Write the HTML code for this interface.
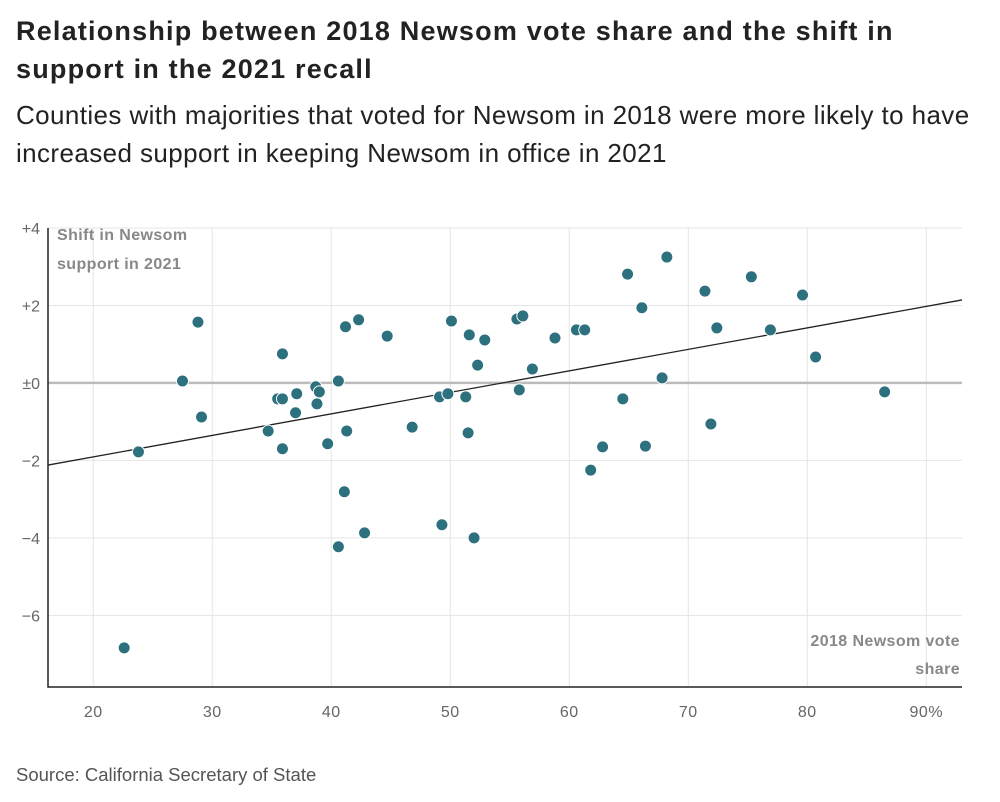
<!DOCTYPE html>
<html><head><meta charset="utf-8">
<style>
body{margin:0;background:#fff;width:1000px;height:802px;overflow:hidden;font-family:"Liberation Sans",sans-serif;}
#title{position:absolute;left:16px;top:12px;width:980px;font-size:27px;letter-spacing:1.2px;font-weight:bold;line-height:38px;color:#222;margin:0;white-space:nowrap}
#sub{position:absolute;left:16px;top:96px;width:980px;font-size:26px;letter-spacing:0.4px;line-height:38px;color:#222;margin:0;white-space:nowrap}
#src{position:absolute;left:16px;top:764px;font-size:18.5px;color:#555}
svg{position:absolute;left:0;top:0}
</style></head><body>
<h1 id="title">Relationship between 2018 Newsom vote share and the shift in<br>support in the 2021 recall</h1>
<p id="sub">Counties with majorities that voted for Newsom in 2018 were more likely to have<br>increased support in keeping Newsom in office in 2021</p>
<div id="src">Source: California Secretary of State</div>
<svg id="chart" width="1000" height="802"></svg>
<script>
const xVals=[23.8,27.5,28.8,29.1,22.6,34.7,35.5,35.9,35.9,35.9,37.0,37.1,38.7,39.0,38.8,39.7,40.6,41.2,41.3,41.1,40.6,42.3,42.8,44.7,46.8,49.1,49.3,49.8,50.1,51.3,51.6,51.5,52.0,52.3,52.9,55.6,56.1,55.8,56.9,58.8,60.6,61.3,61.8,62.8,64.5,64.9,66.1,66.4,67.8,68.2,71.4,71.9,72.4,75.3,76.9,79.6,80.7,86.5];
const yVals=[-1.78,0.05,1.57,-0.88,-6.84,-1.24,-0.41,-0.41,0.75,-1.70,-0.77,-0.28,-0.10,-0.23,-0.54,-1.57,0.05,1.45,-1.24,-2.81,-4.23,1.63,-3.87,1.21,-1.14,-0.36,-3.66,-0.28,1.60,-0.36,1.24,-1.29,-4.0,0.46,1.11,1.65,1.73,-0.18,0.36,1.16,1.37,1.37,-2.25,-1.65,-0.41,2.81,1.94,-1.63,0.13,3.25,2.37,-1.06,1.42,2.74,1.37,2.27,0.67,-0.23];
const xTicks=[20,30,40,50,60,70,80,90];
const xTickLabels=["20","30","40","50","60","70","80","90%"];
const yTicks=[4,2,0,-2,-4,-6];
const yTickLabels=["+4","+2","±0","−2","−4","−6"];
const trend=[-0.244,0.0555]; // value at x=50, slope
const X0=16.2,X1=93.0,Y0=-7.85,Y1=4.0;
const L=48,R=962,T=228,B=687;
const sx=v=>L+(v-X0)/(X1-X0)*(R-L);
const sy=v=>B-(v-Y0)/(Y1-Y0)*(B-T);
const svg=document.getElementById('chart');
const NS='http://www.w3.org/2000/svg';
function mk(tag,attrs,parent){const e=document.createElementNS(NS,tag);for(const k in attrs)e.setAttribute(k,attrs[k]);(parent||svg).appendChild(e);return e;}
xTicks.forEach((t,i)=>{
  const g=mk('line',{x1:sx(t),x2:sx(t),y1:T,y2:B,stroke:'#e4e4e4','stroke-width':1});
  
  
  const tx=mk('text',{x:sx(t),y:717,'text-anchor':'middle','font-size':16,'letter-spacing':0.5,fill:'#666'});
  tx.textContent=xTickLabels[i];
  
  
});
yTicks.forEach((t,i)=>{
  const g=mk('line',{x1:L,x2:R,y1:sy(t),y2:sy(t),stroke:t===0?'#bbb':'#e4e4e4','stroke-width':t===0?2.5:1});
  
  
  const tx=mk('text',{x:40,y:sy(t)+6,'text-anchor':'end','font-size':16,fill:'#666'});
  tx.textContent=yTickLabels[i];
  
  
});
const ax=mk('path',{d:`M${L},${T}V${B}H${R}`,stroke:'#222','stroke-width':1.5,fill:'none'});


const yt=mk('text',{x:57,y:240,'font-size':16,'font-weight':'bold',fill:'#888','letter-spacing':0.4});
yt.innerHTML='<tspan x="57" dy="0">Shift in Newsom</tspan><tspan x="57" dy="29">support in 2021</tspan>';


const xt=mk('text',{x:960,y:646,'font-size':16,'font-weight':'bold',fill:'#888','text-anchor':'end','letter-spacing':0.4});
xt.innerHTML='<tspan x="960" dy="0">2018 Newsom vote</tspan><tspan x="960" dy="28">share</tspan>';


const tl=mk('line',{x1:sx(X0),y1:sy(trend[0]+trend[1]*(X0-50)),x2:sx(X1),y2:sy(trend[0]+trend[1]*(X1-50)),stroke:'#222','stroke-width':1.3});


xVals.forEach((x,i)=>{
  const c=mk('circle',{cx:sx(x),cy:sy(yVals[i]),r:6,fill:'#2d717e',stroke:'#fff','stroke-width':1});
  
  
});
</script>
</body></html>
